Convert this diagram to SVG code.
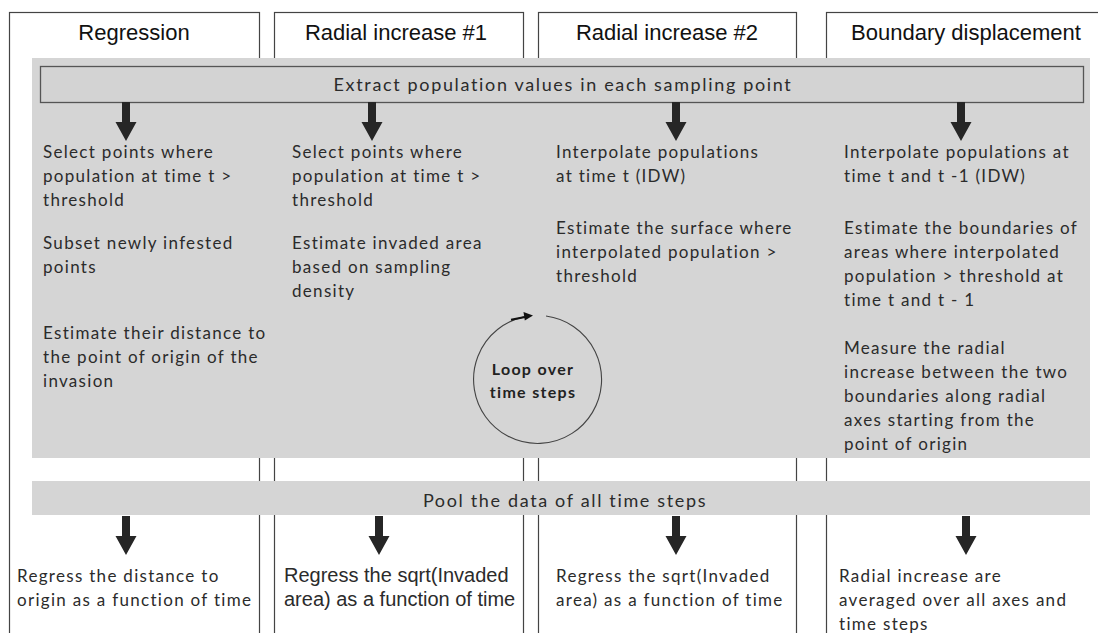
<svg xmlns="http://www.w3.org/2000/svg" xmlns:xlink="http://www.w3.org/1999/xlink" width="1098" height="633" viewBox="0 0 1098 633">
<style>
.col{fill:#fff;stroke:#444;stroke-width:1.2}
.band{fill:#d5d5d5}
.h{font-family:"Liberation Sans",Arial,sans-serif;font-size:22px;fill:#111;text-anchor:middle}
.b{font-family:Lato,"Liberation Sans",sans-serif;font-size:17px;letter-spacing:1.3px;fill:#2b2b2b}
.t{font-family:Lato,"Liberation Sans",sans-serif;font-size:18px;letter-spacing:1.65px;fill:#2b2b2b;text-anchor:middle}
.a{font-family:"Liberation Sans",Arial,sans-serif;font-size:20px;fill:#2b2b2b}
.bold{font-family:Lato,"Liberation Sans",sans-serif;font-size:16px;font-weight:bold;letter-spacing:1.3px;fill:#222;text-anchor:middle}
.arr{fill:#262626}
</style>
<defs>
<path id="blk" d="M-4,0 H4 V20 H10.5 L0,39 L-10.5,20 H-4 Z"/>
</defs>
<rect width="1098" height="633" fill="#fff"/>
<g id="col-regression">
<rect class="col" x="9.5" y="12.5" width="250" height="640"/>
<text class="h" x="134" y="40">Regression</text>
</g>
<g id="col-radial1">
<rect class="col" x="274.5" y="12.5" width="249" height="640"/>
<text class="h" x="396" y="40">Radial increase #1</text>
</g>
<g id="col-radial2">
<rect class="col" x="538.5" y="12.5" width="258" height="640"/>
<text class="h" x="667" y="40">Radial increase #2</text>
</g>
<g id="col-boundary">
<rect class="col" x="826.5" y="12.5" width="290" height="640"/>
<text class="h" x="966" y="40">Boundary displacement</text>
</g>
<g id="loop-area">
<rect class="band" x="32" y="58" width="1058" height="400"/>
</g>
<g id="extract">
<rect x="40.5" y="66.5" width="1043" height="36" fill="#d3d3d3" stroke="#555" stroke-width="1.3"/>
<text class="t" x="563" y="91">Extract population values in each sampling point</text>
</g>
<g id="pool">
<rect class="band" x="32" y="481" width="1058" height="34"/>
<text class="t" x="565" y="507">Pool the data of all time steps</text>
</g>
<g id="regression-steps">
<text class="b" x="43" y="158">Select points where</text>
<text class="b" x="43" y="182">population at time t &gt;</text>
<text class="b" x="43" y="206">threshold</text>
<text class="b" x="43" y="249">Subset newly infested</text>
<text class="b" x="43" y="273">points</text>
<text class="b" x="43" y="339">Estimate their distance to</text>
<text class="b" x="43" y="363">the point of origin of the</text>
<text class="b" x="43" y="387">invasion</text>
</g>
<g id="radial1-steps">
<text class="b" x="292" y="158">Select points where</text>
<text class="b" x="292" y="182">population at time t &gt;</text>
<text class="b" x="292" y="206">threshold</text>
<text class="b" x="292" y="249">Estimate invaded area</text>
<text class="b" x="292" y="273">based on sampling</text>
<text class="b" x="292" y="297">density</text>
</g>
<g id="radial2-steps">
<text class="b" x="556" y="158">Interpolate populations</text>
<text class="b" x="556" y="182">at time t (IDW)</text>
<text class="b" x="556" y="234">Estimate the surface where</text>
<text class="b" x="556" y="258">interpolated population &gt;</text>
<text class="b" x="556" y="282">threshold</text>
</g>
<g id="boundary-steps">
<text class="b" x="844" y="158">Interpolate populations at</text>
<text class="b" x="844" y="182">time t and t -1 (IDW)</text>
<text class="b" x="844" y="234">Estimate the boundaries of</text>
<text class="b" x="844" y="258">areas where interpolated</text>
<text class="b" x="844" y="282">population &gt; threshold at</text>
<text class="b" x="844" y="306">time t and t - 1</text>
<text class="b" x="844" y="354">Measure the radial</text>
<text class="b" x="844" y="378">increase between the two</text>
<text class="b" x="844" y="402">boundaries along radial</text>
<text class="b" x="844" y="426">axes starting from the</text>
<text class="b" x="844" y="450">point of origin</text>
</g>
<g id="loop">
<path d="M546,316 A64,64 0 1 1 524,316.9" fill="none" stroke="#444" stroke-width="1.1"/>
<path d="M511,319.8 L525,317" fill="none" stroke="#111" stroke-width="2"/>
<polygon points="533,315.6 523.5,312 524.8,320.6" fill="#111"/>
<text class="bold" x="533" y="375">Loop over</text>
<text class="bold" x="533" y="398">time steps</text>
</g>
<g id="regression-result">
<text class="b" x="17" y="582">Regress the distance to</text>
<text class="b" x="17" y="606">origin as a function of time</text>
</g>
<g id="radial1-result">
<text class="a" x="284" y="582">Regress the sqrt(Invaded</text>
<text class="a" x="284" y="606">area) as a function of time</text>
</g>
<g id="radial2-result">
<text class="b" x="556" y="582">Regress the sqrt(Invaded</text>
<text class="b" x="556" y="606">area) as a function of time</text>
</g>
<g id="boundary-result">
<text class="b" x="839" y="582">Radial increase are</text>
<text class="b" x="839" y="606">averaged over all axes and</text>
<text class="b" x="839" y="630">time steps</text>
</g>
<g id="connectors" class="arr">
<use xlink:href="#blk" x="126" y="102"/>
<use xlink:href="#blk" x="372" y="102"/>
<use xlink:href="#blk" x="676" y="102"/>
<use xlink:href="#blk" x="961" y="102"/>
<use xlink:href="#blk" x="126" y="516"/>
<use xlink:href="#blk" x="379" y="516"/>
<use xlink:href="#blk" x="676" y="516"/>
<use xlink:href="#blk" x="966" y="516"/>
</g>
</svg>
